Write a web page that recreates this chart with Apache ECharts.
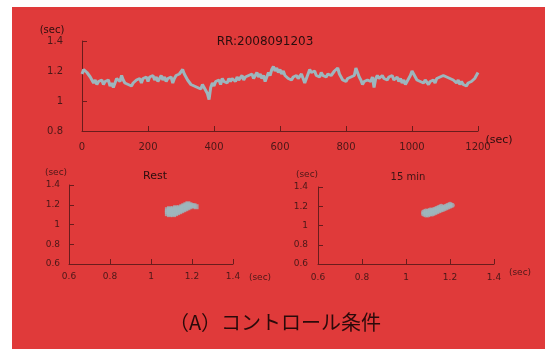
<!DOCTYPE html>
<html>
<head>
<meta charset="utf-8">
<script src="https://cdn.jsdelivr.net/npm/echarts@6/dist/echarts.min.js"></script>
<style>
html,body{margin:0;padding:0;background:#ffffff;}
#c{width:545px;height:349px;}
</style>
</head>
<body>
<div id="c"></div>
<script>
// RR interval (sec), one sample every 5 s from 0 to 1200 s
const rrStep = 5;
const rrValues = [
1.18,1.21,1.22,1.19,1.20,1.16,1.15,1.12,1.14,1.11,
1.13,1.12,1.14,1.11,1.13,1.12,1.14,1.10,1.12,1.09,
1.12,1.15,1.16,1.13,1.17,1.14,1.12,1.13,1.11,1.12,
1.10,1.12,1.11,1.14,1.13,1.15,1.12,1.15,1.14,1.16,
1.13,1.16,1.15,1.17,1.14,1.16,1.13,1.15,1.17,1.14,
1.16,1.13,1.15,1.14,1.16,1.12,1.15,1.17,1.16,1.18,
1.19,1.21,1.18,1.16,1.14,1.13,1.11,1.12,1.10,1.11,
1.09,1.10,1.08,1.11,1.09,1.10,1.05,1.01,1.09,1.12,
1.10,1.13,1.12,1.14,1.11,1.15,1.13,1.14,1.12,1.15,
1.13,1.15,1.14,1.13,1.16,1.14,1.15,1.17,1.14,1.16,
1.15,1.17,1.16,1.18,1.15,1.17,1.19,1.16,1.18,1.15,
1.17,1.13,1.16,1.19,1.17,1.21,1.23,1.20,1.22,1.19,
1.21,1.18,1.20,1.17,1.18,1.15,1.16,1.14,1.16,1.15,
1.17,1.15,1.16,1.18,1.15,1.12,1.15,1.18,1.21,1.19,
1.18,1.20,1.17,1.18,1.16,1.19,1.17,1.18,1.16,1.18,
1.19,1.17,1.18,1.20,1.19,1.22,1.18,1.16,1.14,1.15,
1.13,1.15,1.14,1.16,1.15,1.17,1.22,1.19,1.16,1.14,
1.11,1.13,1.12,1.14,1.15,1.13,1.16,1.09,1.15,1.17,
1.15,1.16,1.17,1.15,1.16,1.14,1.16,1.15,1.17,1.14,
1.15,1.16,1.13,1.15,1.12,1.14,1.11,1.13,1.12,1.17,
1.20,1.18,1.16,1.14,1.15,1.13,1.14,1.12,1.14,1.13,
1.11,1.13,1.12,1.14,1.12,1.15,1.14,1.16,1.15,1.17,
1.18,1.16,1.17,1.15,1.16,1.14,1.13,1.12,1.14,1.11,
1.13,1.11,1.12,1.10,1.12,1.11,1.13,1.12,1.15,1.14,
1.19
];
// Poincaré plot points [RR(n), RR(n+1)]
const restPoints = [
[1.08,1.11],[1.08,1.13],[1.08,1.15],
[1.09,1.10],[1.09,1.12],[1.09,1.14],[1.09,1.16],
[1.10,1.11],[1.10,1.13],[1.10,1.15],
[1.11,1.10],[1.11,1.12],[1.11,1.14],[1.11,1.16],
[1.12,1.11],[1.12,1.13],[1.12,1.15],[1.12,1.17],
[1.13,1.12],[1.13,1.14],[1.13,1.16],
[1.14,1.13],[1.14,1.15],[1.14,1.17],
[1.15,1.14],[1.15,1.16],[1.15,1.18],
[1.16,1.15],[1.16,1.17],[1.16,1.19],
[1.17,1.16],[1.17,1.18],[1.17,1.20],
[1.18,1.17],[1.18,1.19],[1.18,1.21],
[1.19,1.18],[1.19,1.20],[1.20,1.19],[1.21,1.19],[1.22,1.18]
];
const min15Points = [
[1.08,1.12],[1.08,1.14],
[1.09,1.11],[1.09,1.13],[1.09,1.15],
[1.10,1.11],[1.10,1.13],[1.10,1.15],
[1.11,1.12],[1.11,1.14],[1.11,1.16],
[1.12,1.12],[1.12,1.14],[1.12,1.16],
[1.13,1.13],[1.13,1.15],[1.13,1.17],
[1.14,1.14],[1.14,1.16],[1.14,1.18],
[1.15,1.15],[1.15,1.17],[1.15,1.19],
[1.16,1.16],[1.16,1.18],[1.16,1.20],
[1.17,1.17],[1.17,1.19],
[1.18,1.18],[1.18,1.20],
[1.19,1.19],[1.19,1.21],
[1.20,1.20],[1.20,1.22],[1.21,1.21]
];
const topTitle = 'RR:2008091203';
const restTitle = 'Rest';
const min15Title = '15 min';
const unitLabel = '(sec)';
const caption = '（A）コントロール条件';

const RED = '#e03a3a';
const DOT = '#9db6bd';
const AX = '#6a1c1c';
const TXT = '#4a1818';
const DARK = '#2a0e0e';
const FONT = 'DejaVu Sans';

const rrData = rrValues.map((v, i) => [i * rrStep, v]);

function axisCommon(extra, fs, margin) {
  return Object.assign({
    axisLine: {show: true, lineStyle: {color: AX, width: 1}},
    axisTick: {show: true, inside: true, length: 5, lineStyle: {color: AX}},
    splitLine: {show: false},
    axisLabel: {color: TXT, fontSize: fs, fontFamily: FONT, margin: margin,
                formatter: function (v) { return String(Math.round(v * 100) / 100); }}
  }, extra);
}

function unitText(x, y, size, color) {
  return {type: 'text', x: x, y: y, z: 10,
    style: {text: unitLabel, fill: color, font: size + 'px "' + FONT + '"',
            textAlign: 'center', textVerticalAlign: 'middle'}};
}

const chart = echarts.init(document.getElementById('c'), null, {renderer: 'canvas'});
chart.setOption({
  backgroundColor: '#ffffff',
  animation: false,
  graphic: [
    {type: 'rect', z: -10, shape: {x: 12, y: 7, width: 533, height: 342}, style: {fill: RED}},
    {type: 'text', x: 275, y: 322, z: 10,
     style: {text: caption, fill: '#2a0a0a', font: '20px "Noto Sans CJK JP"',
             textAlign: 'center', textVerticalAlign: 'middle'}},
    unitText(52, 30, 10, DARK),
    unitText(499, 140, 11, DARK),
    unitText(56, 173, 9, TXT),
    unitText(260, 278, 9, TXT),
    unitText(307, 175, 9, TXT),
    unitText(520, 273, 9, TXT)
  ],
  title: [
    {text: topTitle, left: 260, top: 31, textAlign: 'center',
     textStyle: {color: DARK, fontSize: 12, fontWeight: 'normal', fontFamily: FONT}},
    {text: restTitle, left: 150, top: 166, textAlign: 'center',
     textStyle: {color: DARK, fontSize: 11, fontWeight: 'normal', fontFamily: FONT}},
    {text: min15Title, left: 403, top: 167, textAlign: 'center',
     textStyle: {color: '#3a1414', fontSize: 10, fontWeight: 'normal', fontFamily: FONT}}
  ],
  grid: [
    {left: 82, top: 41, width: 396, height: 90},
    {left: 69, top: 185, width: 164, height: 79},
    {left: 318, top: 187, width: 176, height: 77}
  ],
  xAxis: [
    axisCommon({gridIndex: 0, type: 'value', min: 0, max: 1200, interval: 200}, 10, 11),
    axisCommon({gridIndex: 1, type: 'value', min: 0.6, max: 1.4, interval: 0.2}, 9, 8),
    axisCommon({gridIndex: 2, type: 'value', min: 0.6, max: 1.4, interval: 0.2}, 9, 9)
  ],
  yAxis: [
    axisCommon({gridIndex: 0, type: 'value', min: 0.8, max: 1.4, interval: 0.2}, 10, 19),
    axisCommon({gridIndex: 1, type: 'value', min: 0.6, max: 1.4, interval: 0.2}, 9, 9),
    axisCommon({gridIndex: 2, type: 'value', min: 0.6, max: 1.4, interval: 0.2}, 9, 10)
  ],
  series: [
    {type: 'line', xAxisIndex: 0, yAxisIndex: 0, data: rrData, showSymbol: false,
     lineStyle: {color: DOT, width: 3}, z: 3},
    {type: 'scatter', xAxisIndex: 1, yAxisIndex: 1, data: restPoints, symbol: 'rect',
     symbolSize: 5, itemStyle: {color: DOT}},
    {type: 'scatter', xAxisIndex: 2, yAxisIndex: 2, data: min15Points, symbol: 'circle',
     symbolSize: 5, itemStyle: {color: DOT}}
  ]
});
</script>
</body>
</html>
